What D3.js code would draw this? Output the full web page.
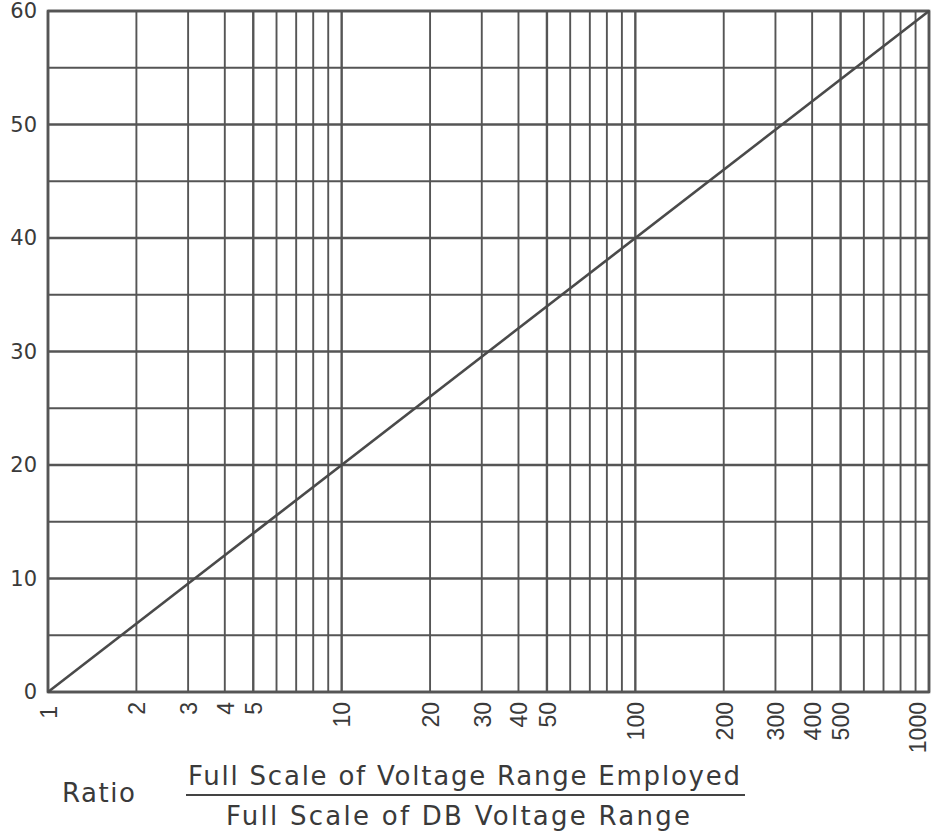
<!DOCTYPE html>
<html>
<head>
<meta charset="utf-8">
<script src="https://cdn.jsdelivr.net/npm/d3@7/dist/d3.min.js"></script>
<style>
  html, body { margin: 0; padding: 0; background: #fff; }
  svg { display: block; }
</style>
</head>
<body>
<svg id="chart" width="934" height="834"></svg>
<script>
// Decibel chart: dB = 20·log10(ratio)
const xTickValues = [1, 2, 3, 4, 5, 10, 20, 30, 40, 50, 100, 200, 300, 400, 500, 1000];
const xGridValues = [1, 2, 3, 4, 5, 6, 7, 8, 9, 10, 20, 30, 40, 50, 60, 70, 80, 90,
                     100, 200, 300, 400, 500, 600, 700, 800, 900, 1000];
const yTickValues = [0, 10, 20, 30, 40, 50, 60];
const yGridValues = [0, 5, 10, 15, 20, 25, 30, 35, 40, 45, 50, 55, 60];
const ratioPoints = [1, 1000];
const dbPoints = [0, 60];

const svg = d3.select("#chart");
const plotLeft = 48, plotRight = 929, plotTop = 11, plotBottom = 692;
const lineColor = "#555";
const textColor = "#3a3a3a";

const x = d3.scaleLog().domain([1, 1000]).range([plotLeft, plotRight]);
const y = d3.scaleLinear().domain([0, 60]).range([plotBottom, plotTop]);

const isMajorX = v => [1, 5, 10, 50, 100, 500, 1000].includes(v);

// vertical grid
svg.append("g").selectAll("line").data(xGridValues).join("line")
  .attr("x1", d => x(d)).attr("x2", d => x(d))
  .attr("y1", plotTop).attr("y2", plotBottom)
  .attr("stroke", lineColor)
  .attr("stroke-width", d => isMajorX(d) ? 2.4 : 1.9);

// horizontal grid
svg.append("g").selectAll("line").data(yGridValues).join("line")
  .attr("x1", plotLeft).attr("x2", plotRight)
  .attr("y1", d => y(d)).attr("y2", d => y(d))
  .attr("stroke", lineColor)
  .attr("stroke-width", d => d % 10 === 0 ? 2.4 : 1.9);

// frame
svg.append("rect")
  .attr("x", plotLeft).attr("y", plotTop)
  .attr("width", plotRight - plotLeft).attr("height", plotBottom - plotTop)
  .attr("fill", "none").attr("stroke", lineColor).attr("stroke-width", 2.6);

// dB line
const line = d3.line().x(d => x(d)).y((d, i) => y(dbPoints[i]));
svg.append("path")
  .datum(ratioPoints)
  .attr("d", line)
  .attr("fill", "none")
  .attr("stroke", "#4a4a4a")
  .attr("stroke-width", 2.6);

// y axis labels
const yAxis = d3.axisLeft(y).tickValues(yTickValues).tickSize(0).tickPadding(11);
const yg = svg.append("g").attr("transform", `translate(${plotLeft},0)`).call(yAxis);
yg.select(".domain").remove();
yg.selectAll("text")
  .style("font-size", "21px")
  .style("font-family", "'DejaVu Sans', sans-serif")
  .style("fill", textColor);

// x axis labels, rotated; the last one is nudged inside the edge
const xAxis = d3.axisBottom(x).tickValues(xTickValues).tickFormat(d3.format("d")).tickSize(0);
const xg = svg.append("g").attr("transform", `translate(0,${plotBottom})`).call(xAxis);
xg.select(".domain").remove();
xg.selectAll("text")
  .style("font-size", "23px")
  .style("font-family", "'Liberation Sans', Arial, sans-serif")
  .style("fill", textColor)
  .attr("text-anchor", "end")
  .attr("transform", d => `translate(${d === 1000 ? -12 : 0},${d === 1 ? 14 : 10}) rotate(-90)`)
  .attr("x", 0).attr("y", 0)
  .attr("dy", "0.36em");

// axis title as a fraction
const title = svg.append("g")
  .style("font-family", "'DejaVu Sans', sans-serif")
  .style("font-size", "26px")
  .style("fill", textColor);
title.append("text")
  .attr("x", 62).attr("y", 802)
  .attr("textLength", 73)
  .text("Ratio");
title.append("text")
  .attr("x", 188).attr("y", 785)
  .attr("textLength", 552)
  .attr("lengthAdjust", "spacing")
  .text("Full Scale of Voltage Range Employed");
title.append("line")
  .attr("x1", 186).attr("x2", 745)
  .attr("y1", 795).attr("y2", 795)
  .attr("stroke", "#444").attr("stroke-width", 2);
title.append("text")
  .attr("x", 226).attr("y", 825)
  .attr("textLength", 464)
  .attr("lengthAdjust", "spacing")
  .text("Full Scale of DB Voltage Range");
</script>
</body>
</html>
